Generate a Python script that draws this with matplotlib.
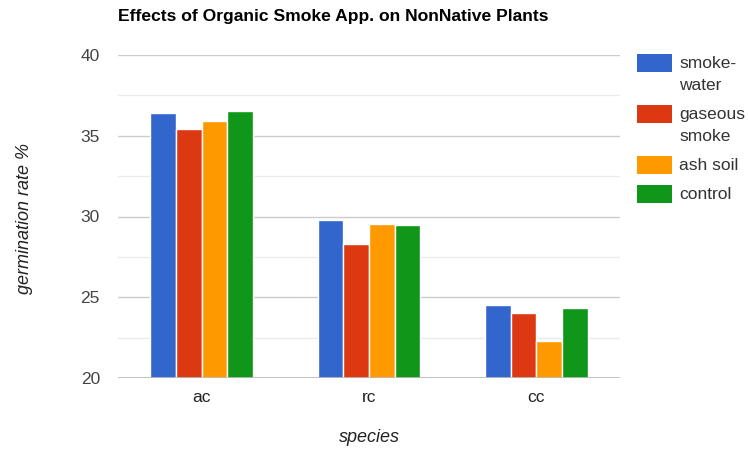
import matplotlib
matplotlib.use("Agg")
import matplotlib.pyplot as plt
from matplotlib.patches import Rectangle
import numpy as np

species = ["ac", "rc", "cc"]
series_names = ["smoke-\nwater", "gaseous\nsmoke", "ash soil", "control"]
smoke_water = [36.4, 29.8, 24.55]
gaseous_smoke = [35.4, 28.3, 24.0]
ash_soil = [35.9, 29.55, 22.3]
control = [36.55, 29.47, 24.35]
colors = ["#3366cc", "#dc3912", "#ff9900", "#109618"]
y_ticks = [20, 25, 30, 35, 40]

plt.rcParams["font.family"] = ["Liberation Sans", "DejaVu Sans"]

W, H = 748, 453
fig = plt.figure(figsize=(W / 100, H / 100), dpi=100)
ax = fig.add_axes([118 / W, 1 - 378 / H, (620 - 118) / W, (378 - 55) / H])

values = [smoke_water, gaseous_smoke, ash_soil, control]
x = np.arange(len(species))
bar_w = 0.153
for i, (vals, name, col) in enumerate(zip(values, series_names, colors)):
    offs = (i - 1.5) * bar_w
    ax.bar(x + offs, np.array(vals) - 20, width=bar_w, bottom=20, color=col,
           edgecolor="white", linewidth=1.0, label=name, zorder=3)

ax.set_xlim(-0.5, 2.5)
ax.set_ylim(20, 40)
ax.set_yticks(y_ticks)
ax.set_yticks([22.5, 27.5, 32.5, 37.5], minor=True)
ax.grid(axis="y", which="major", color="#cccccc", linewidth=1.0, zorder=0)
ax.grid(axis="y", which="minor", color="#ebebeb", linewidth=1.0, zorder=0)
ax.axhline(20, color="#bbbbbb", linewidth=1.2, zorder=4)
for s in ax.spines.values():
    s.set_visible(False)
ax.tick_params(axis="both", which="both", length=0)
ax.tick_params(axis="y", labelsize=12.5, labelcolor="#444444", pad=13)
ax.tick_params(axis="x", labelsize=12.5, labelcolor="#222222", pad=9)
ax.set_xticks(x)
ax.set_xticklabels(species)

fig.text(118 / W, 1 - 17 / H, "Effects of Organic Smoke App. on NonNative Plants",
         fontsize=12.6, fontweight="bold", color="#000000", va="center", ha="left")
fig.text(369 / W, 1 - 438 / H, "species", fontsize=13, style="italic",
         color="#222222", ha="center", va="center")
fig.text(25 / W, 1 - 218 / H, "germination rate %", fontsize=13, style="italic",
         color="#222222", ha="center", va="center", rotation=90)

# legend: swatch aligned with the first line of each (possibly wrapped) label
line_h = 21.7
entry_gap = 7.5
y_px = 63.3
for name, col in zip(series_names, colors):
    fig.add_artist(Rectangle((637 / W, 1 - (y_px + 9) / H), 35 / W, 18 / H,
                             transform=fig.transFigure, facecolor=col,
                             edgecolor="none"))
    fig.text(679 / W, 1 - (y_px - 7) / H, name, fontsize=12.5, color="#333333",
             ha="left", va="top", linespacing=1.6)
    y_px += name.count("\n") * line_h + line_h + entry_gap

fig.savefig("out.png", dpi=100, facecolor="white")
